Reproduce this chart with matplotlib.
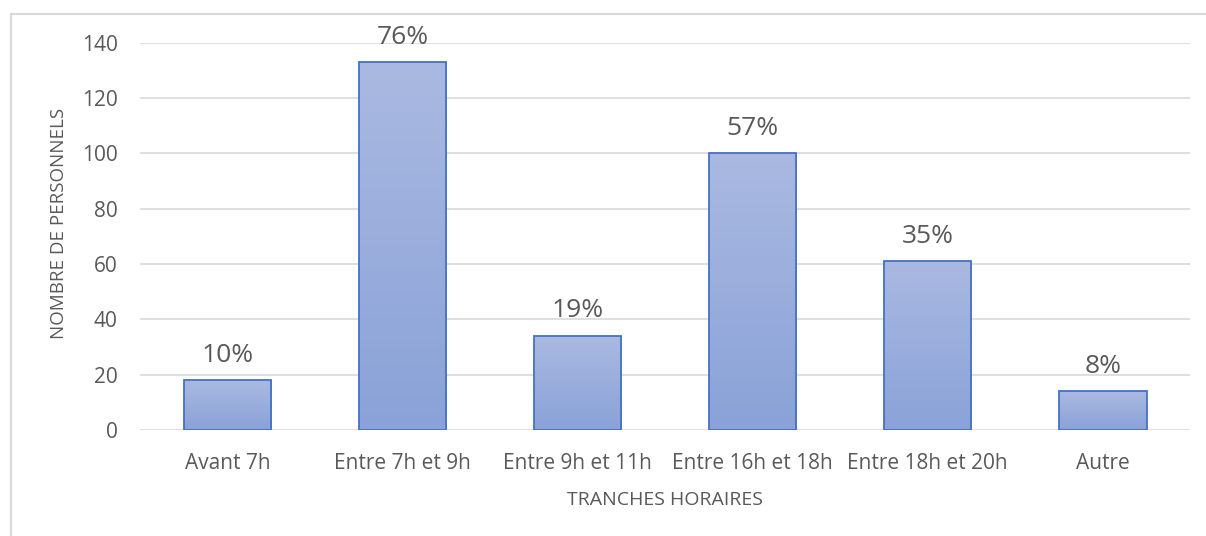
import matplotlib.pyplot as plt
import numpy as np
from matplotlib.colors import LinearSegmentedColormap
from matplotlib.lines import Line2D

# data
categories = ['Avant 7h', 'Entre 7h et 9h', 'Entre 9h et 11h',
              'Entre 16h et 18h', 'Entre 18h et 20h', 'Autre']
counts = [18, 133, 34, 100, 61, 14]
pct_labels = ['10%', '76%', '19%', '57%', '35%', '8%']
y_ticks = [0, 20, 40, 60, 80, 100, 120, 140]

plt.rcParams['font.family'] = ['Open Sans', 'DejaVu Sans']
text_col = '#595959'

fig = plt.figure(figsize=(12.06, 5.36), dpi=100)
ax = fig.add_axes([0.116, 0.198, 0.871, 0.722])

# gradient: lighter at the top, darker at the bottom
cmap = LinearSegmentedColormap.from_list('grad', ['#8aa2d8', '#aab9e1'])
grad = np.linspace(0, 1, 256).reshape(-1, 1)
width = 0.5
x = np.arange(len(categories))
for xi, v, lab in zip(x, counts, pct_labels):
    ax.imshow(grad, cmap=cmap, origin='lower', aspect='auto',
              extent=(xi - width / 2, xi + width / 2, 0, v), zorder=2)
    ax.annotate(lab, (xi, v), xytext=(0, 9), textcoords='offset points',
                ha='center', va='bottom', fontsize=19, color=text_col)
ax.bar(x, counts, width=width, facecolor='none', edgecolor='#4472c4',
       linewidth=1.3, zorder=3)

ax.set_xlim(-0.5, len(categories) - 0.5)
ax.set_ylim(0, 140)
ax.set_yticks(y_ticks)
ax.set_xticks(x)
ax.set_xticklabels(categories)
ax.tick_params(axis='both', length=0, labelsize=15, colors=text_col)
ax.tick_params(axis='x', pad=17)
ax.tick_params(axis='y', pad=16)
ax.yaxis.grid(True, color='#d9d9d9', linewidth=1.2)
ax.set_axisbelow(True)
for s in ax.spines.values():
    s.set_visible(False)

ax.set_xlabel('TRANCHES HORAIRES', fontsize=14, color=text_col, labelpad=12)
ax.set_ylabel('NOMBRE DE PERSONNELS', fontsize=13.5, color=text_col, labelpad=10)
ax.yaxis.set_label_coords(-0.068, 0.534)

# chart border (left and top visible)
fig.add_artist(Line2D([0.009, 0.009], [0, 0.974], transform=fig.transFigure,
                      color='#d9d9d9', linewidth=1.5))
fig.add_artist(Line2D([0.009, 1.0], [0.974, 0.974], transform=fig.transFigure,
                      color='#d9d9d9', linewidth=1.5))

fig.savefig('out.png', dpi=100)
